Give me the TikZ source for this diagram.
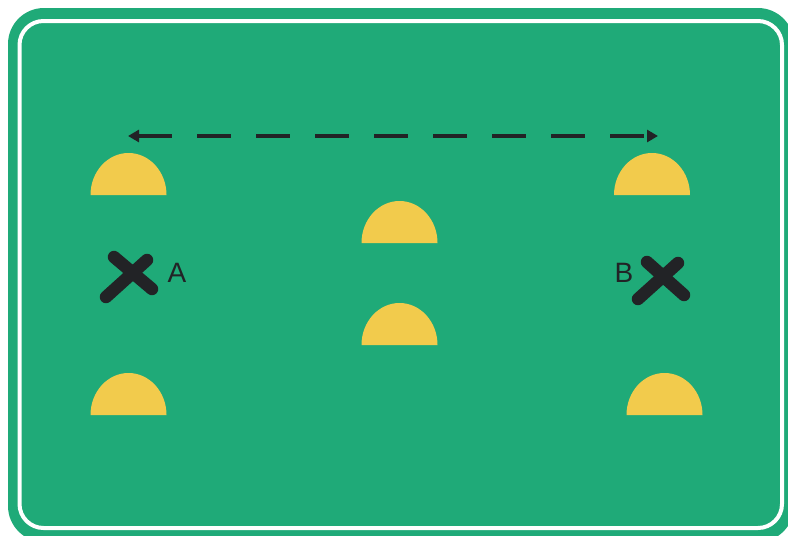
\documentclass[tikz,border=0pt]{standalone}
\usepackage{fontspec}
\setmainfont{Liberation Sans}
\usetikzlibrary{arrows.meta}
\definecolor{field}{HTML}{1FAA78}
\definecolor{cone}{HTML}{F2CB4C}
\definecolor{ink}{HTML}{222326}
\tikzset{
  dome/.style={fill=cone, draw=none},
  cross/.style={draw=ink, line width=12.5pt, line cap=round},
  lbl/.style={text=ink, font=\fontsize{28}{30}\selectfont, inner sep=0pt},
  runarrow/.style={draw=ink, line width=3.2pt, dash pattern=on 34pt off 25pt,
    {Triangle[length=11pt,width=12pt]}-{Triangle[length=11pt,width=12pt]}}
}
\newcommand{\domeat}[2]{\fill[dome] (#1-38,#2) arc[start angle=180,end angle=0,x radius=38,y radius=-42] -- cycle;}
\begin{document}
\begin{tikzpicture}[x=1pt,y=-1pt]
\useasboundingbox (0,0) rectangle (788,536);
\begin{scope}
\clip (0,0) rectangle (788,536);
\fill[field, rounded corners=36pt] (8,8) rectangle (794,542);
\draw[white, line width=4pt, rounded corners=24pt] (19.5,21) rectangle (782,528);
\end{scope}
% domes
\domeat{128.5}{195}
\domeat{652}{195}
\domeat{399.5}{243}
\domeat{399.5}{345}
\domeat{128.5}{415}
\domeat{664.5}{415}
% arrow
\coordinate (left) at (128,136);
\coordinate (right) at (658,136);
\draw[runarrow] (left) -- (right);
% crosses
\draw[cross] (106,297) -- (147,260);
\draw[cross] (114,257) -- (152,289);
\draw[cross] (638,299) -- (678,263);
\draw[cross] (647,262) -- (684,295);
\node[lbl] (A) at (177,273) {A};
\node[lbl] (B) at (624,273) {B};
\end{tikzpicture}
\end{document}
